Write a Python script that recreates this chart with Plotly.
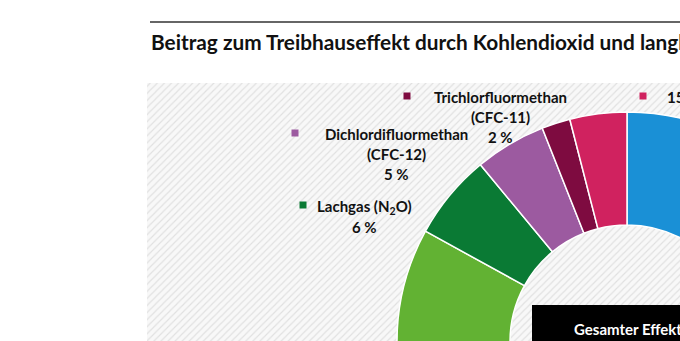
import plotly.graph_objects as go

# Shares of radiative forcing (percent), drawn clockwise from 12 o'clock
gases = [
    "Kohlendioxid (CO2)",
    "Methan (CH4)",
    "Lachgas (N2O)",
    "Dichlordifluormethan (CFC-12)",
    "Trichlorfluormethan (CFC-11)",
    "15 weitere halogenierte Gase",
]
shares = [66, 17, 6, 5, 2, 4]
colors = ["#1a90d6", "#62b233", "#0a7a34", "#9c5aa0", "#7e0b40", "#d0225f"]

title = "Beitrag zum Treibhauseffekt durch Kohlendioxid und langlebige Treibhausgase"

# Canvas in pixel units (the visible page shows the upper-left part)
W, H = 900, 600
FONT = "Lato"

fig = go.Figure()

# hatched panel behind the ring
fig.add_trace(go.Scatter(
    x=[147, W, W, 147, 147], y=[83, 83, H, H, 83],
    mode="lines", fill="toself", line=dict(width=0),
    fillcolor="#f6f6f6",
    fillpattern=dict(shape="/", size=5, solidity=0.24,
                     fgcolor="#c8c8c8", bgcolor="#f8f8f8"),
    hoverinfo="skip", showlegend=False,
))

# ring chart
cx, cy, R = 627, 342, 230
fig.add_trace(go.Pie(
    labels=gases, values=shares, sort=False, direction="clockwise",
    rotation=0, hole=117 / 230, textinfo="none", hoverinfo="label+percent",
    marker=dict(colors=colors, line=dict(color="#ffffff", width=1.5)),
    domain=dict(x=[(cx - R) / W, (cx + R) / W],
                y=[(H - cy - R) / H, (H - cy + R) / H]),
    showlegend=False,
))

# labels: (gas index, marker position, text centre x, first line y, text lines)
labels = [
    (4, (407, 96), 500, 97, ["Trichlorfluormethan", "(CFC-11)", "2 %"]),
    (3, (295, 133), 396, 134, ["Dichlordifluormethan", "(CFC-12)", "5 %"]),
    (2, (303, 205), 364, 207, ["Lachgas (N<sub>2</sub>O)", "6 %"]),
]
mx, my, mc = [], [], []
for idx, (px, py), tx, ty, lines in labels:
    mx.append(px); my.append(py); mc.append(colors[idx])
    for k, line in enumerate(lines):
        fig.add_annotation(x=tx, y=ty + 20 * k, xref="x", yref="y", text=f"<b>{line}</b>",
                           showarrow=False, xanchor="center", yanchor="middle",
                           font=dict(family=FONT, size=15, color="#111111"))

# label for the minor halogenated gases
mx.append(643); my.append(96); mc.append(colors[5])
fig.add_annotation(x=665, y=97, xref="x", yref="y", text="<b>15 weitere halogenierte Gase</b>",
                   showarrow=False, xanchor="left", yanchor="middle",
                   font=dict(family=FONT, size=15, color="#111111"))

fig.add_trace(go.Scatter(
    x=mx, y=my, mode="markers",
    marker=dict(symbol="square", size=7, color=mc, line=dict(width=0)),
    hoverinfo="skip", showlegend=False,
))

# title with rule above
fig.add_shape(type="line", x0=150, x1=W, y0=22, y1=22, xref="x", yref="y",
              line=dict(color="#333333", width=1.5))
fig.add_annotation(x=149, y=41, xref="x", yref="y", text=f"<b>{title}</b>",
                   showarrow=False, xanchor="left", yanchor="middle",
                   font=dict(family=FONT, size=20.8, color="#111111"))

# total-effect box
fig.add_shape(type="rect", x0=532, x1=W, y0=305, y1=H, xref="x", yref="y",
              fillcolor="#000000", line=dict(width=0), layer="above")
fig.add_annotation(x=572, y=329, xref="x", yref="y", text="<b>Gesamter Effekt</b>",
                   showarrow=False, xanchor="left", yanchor="middle",
                   font=dict(family=FONT, size=15, color="#ffffff"))

fig.update_layout(
    width=W, height=H, margin=dict(l=0, r=0, t=0, b=0),
    paper_bgcolor="#ffffff", plot_bgcolor="rgba(0,0,0,0)",
    xaxis=dict(range=[0, W], visible=False, fixedrange=True),
    yaxis=dict(range=[H, 0], visible=False, fixedrange=True),
)

fig.write_html("out.html")
